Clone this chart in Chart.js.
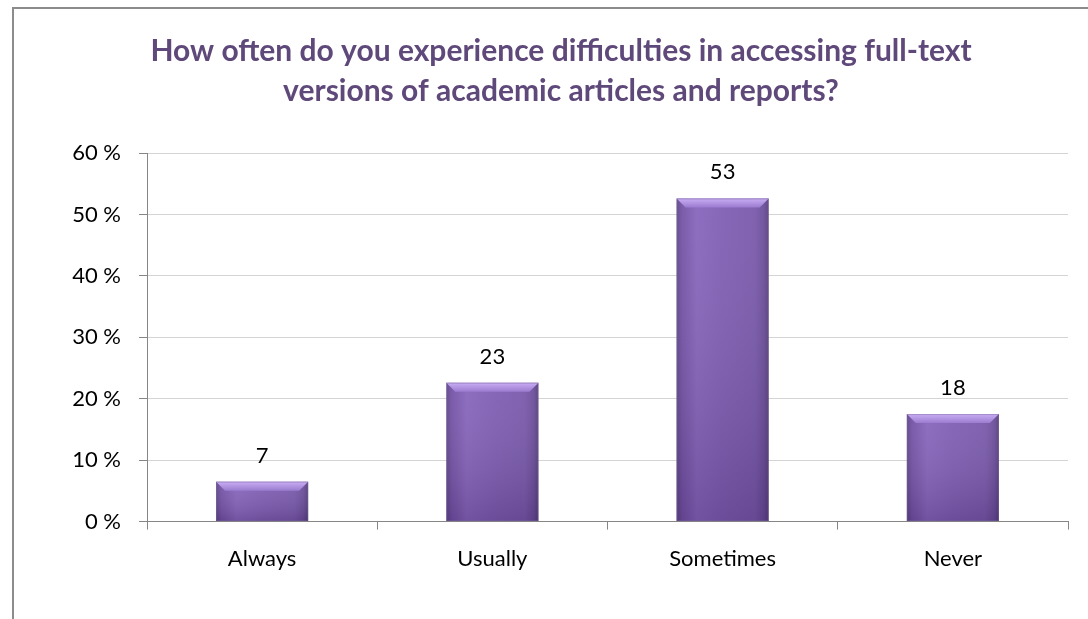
<!DOCTYPE html>
<html><head><meta charset="utf-8">
<script src="https://cdn.jsdelivr.net/npm/chart.js@4.4.0/dist/chart.umd.min.js"></script>
<style>
html,body{margin:0;padding:0;overflow:hidden;background:#fff;width:1088px;height:619px;}
#frame{position:absolute;left:12px;top:7px;width:2000px;height:2000px;border-left:2px solid #8c8c8c;border-top:2px solid #8c8c8c;}
#wrap{position:absolute;left:0;top:0;width:1122px;height:619px;}
</style></head><body>
<div id="frame"></div>
<div id="wrap"><canvas id="c"></canvas></div>
<script>
const categories = ['Always', 'Usually', 'Sometimes', 'Never'];
const values = [6.5, 22.6, 52.6, 17.5];
const valueLabels = ['7', '23', '53', '18'];
const yTicks = [0, 10, 20, 30, 40, 50, 60];
const titleLines = ['How often do you experience difficulties in accessing full-text', 'versions of academic articles and reports?'];

const FONT = 'Lato';

function barFill(ctx) {
  const chart = ctx.chart;
  if (!chart.chartArea || ctx.type !== 'data') return '#7b5aae';
  const xs = chart.scales.x;
  const cx = xs.getPixelForValue(ctx.dataIndex);
  const w = xs.width / categories.length * 0.4;
  const g = chart.ctx.createLinearGradient(cx - w / 2, 0, cx + w / 2, 0);
  g.addColorStop(0, '#5f4489');
  g.addColorStop(0.06, '#7352a6');
  g.addColorStop(0.22, '#8664bb');
  g.addColorStop(0.5, '#7e5db3');
  g.addColorStop(0.85, '#7858ab');
  g.addColorStop(0.95, '#6a4c98');
  g.addColorStop(1, '#553d7c');
  return g;
}

const bevelPlugin = {
  id: 'bevel',
  afterDatasetsDraw(chart) {
    const c = chart.ctx;
    const meta = chart.getDatasetMeta(0);
    meta.data.forEach((el, i) => {
      const p = el.getProps(['x', 'y', 'base', 'width'], true);
      const l = p.x - p.width / 2, r = p.x + p.width / 2, top = p.y, base = p.base;
      c.save();
      const g = c.createLinearGradient(0, top, 0, base);
      g.addColorStop(0, 'rgba(255,255,255,0.06)');
      g.addColorStop(1, 'rgba(20,0,40,0.18)');
      c.fillStyle = g;
      c.fillRect(l, top, p.width, base - top);
      const b = 9;
      const bg = c.createLinearGradient(0, top, 0, top + b);
      bg.addColorStop(0, '#caaef5');
      bg.addColorStop(1, '#9a7bcf');
      c.beginPath();
      c.moveTo(l, top); c.lineTo(r, top); c.lineTo(r - b, top + b); c.lineTo(l + b, top + b); c.closePath();
      c.fillStyle = bg; c.fill();
      c.strokeStyle = 'rgba(120,100,150,0.45)';
      c.lineWidth = 1;
      c.strokeRect(l + 0.5, top + 0.5, p.width - 1, base - top - 1);
      c.fillStyle = '#000';
      c.font = '22px ' + FONT;
      c.textAlign = 'center';
      c.textBaseline = 'alphabetic';
      c.fillText(valueLabels[i], p.x, top - 19);
      c.restore();
    });
  }
};

new Chart(document.getElementById('c'), {
  type: 'bar',
  data: {
    labels: categories,
    datasets: [{ data: values, backgroundColor: barFill, borderWidth: 0, barPercentage: 0.4, categoryPercentage: 1.0 }]
  },
  options: {
    responsive: true,
    maintainAspectRatio: false,
    animation: false,
    layout: { padding: { left: 54, right: 54, top: 0, bottom: 31 } },
    plugins: {
      legend: { display: false },
      tooltip: { enabled: false },
      title: {
        display: true,
        text: titleLines,
        color: '#5f497a',
        font: { family: FONT, size: 30, weight: 'bold', lineHeight: 40 / 30 },
        padding: { top: 31, bottom: 42 }
      }
    },
    scales: {
      x: {
        grid: { display: true, drawOnChartArea: false, drawTicks: true, tickLength: 8, color: '#868686', offset: true },
        border: { color: '#868686', width: 1 },
        ticks: { color: '#000', font: { family: FONT, size: 22 }, padding: 16 }
      },
      y: {
        min: 0, max: 60,
        afterBuildTicks: s => { s.ticks = yTicks.map(v => ({ value: v })); },
        afterFit: s => { s.width = 93; },
        ticks: { color: '#000', font: { family: FONT, size: 22 }, padding: 18, callback: v => v + ' %' },
        grid: { color: '#d4d4d4', tickColor: '#868686', tickLength: 8, lineWidth: 1 },
        border: { color: '#868686', width: 1 }
      }
    }
  },
  plugins: [bevelPlugin]
});
</script>
</body></html>
